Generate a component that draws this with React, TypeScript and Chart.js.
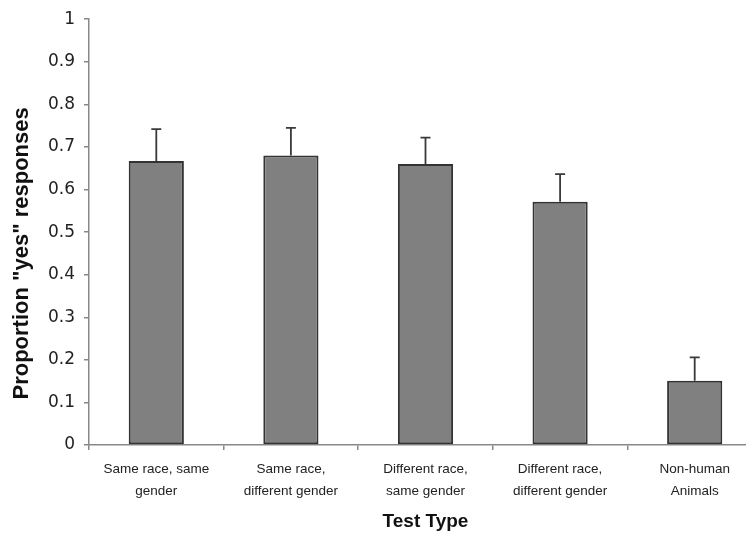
import React, { useEffect, useRef } from "react";
import { Chart, registerables } from "chart.js";

Chart.register(...registerables);

const categories: string[][] = [
  ["Same race, same", "gender"],
  ["Same race,", "different gender"],
  ["Different race,", "same gender"],
  ["Different race,", "different gender"],
  ["Non-human", "Animals"],
];
const proportions: number[] = [0.667, 0.68, 0.66, 0.571, 0.151];
const errors: number[] = [0.075, 0.065, 0.062, 0.065, 0.055];
const yTicks: number[] = [0, 0.1, 0.2, 0.3, 0.4, 0.5, 0.6, 0.7, 0.8, 0.9, 1];
const yTitle = 'Proportion "yes" responses';
const xTitle = "Test Type";

const SANS = "'Liberation Sans', Arial, sans-serif";

const errorBarPlugin = {
  id: "errorBars",
  afterDatasetsDraw(chart: any) {
    const meta = chart.getDatasetMeta(0);
    const yScale = chart.scales.y;
    const ctx = chart.ctx;
    ctx.save();
    ctx.strokeStyle = "#3a3a3a";
    ctx.lineWidth = 1.8;
    meta.data.forEach((bar: any, i: number) => {
      const top = yScale.getPixelForValue(proportions[i] + errors[i]);
      const x = bar.x;
      ctx.beginPath();
      ctx.moveTo(x, bar.y);
      ctx.lineTo(x, top);
      ctx.moveTo(x - 5, top);
      ctx.lineTo(x + 5, top);
      ctx.stroke();
    });
    ctx.restore();
  },
};

const yTitlePlugin = {
  id: "yTitle",
  afterDraw(chart: any) {
    const ctx = chart.ctx;
    const area = chart.chartArea;
    ctx.save();
    ctx.translate(22, area.top + (area.bottom - area.top) * 0.55);
    ctx.rotate(-Math.PI / 2);
    ctx.font = `bold 22px ${SANS}`;
    ctx.fillStyle = "#111";
    ctx.textAlign = "center";
    ctx.textBaseline = "middle";
    ctx.fillText(yTitle, 0, 0);
    ctx.restore();
  },
};

export default function App() {
  const ref = useRef<HTMLCanvasElement | null>(null);
  useEffect(() => {
    if (!ref.current) return;
    const chart = new Chart(ref.current, {
      type: "bar",
      data: {
        labels: categories,
        datasets: [
          {
            data: proportions,
            backgroundColor: "#808080",
            borderColor: "#333333",
            borderWidth: 2,
            borderSkipped: false,
            barPercentage: 0.41,
            categoryPercentage: 1,
          },
        ],
      },
      options: {
        animation: false,
        responsive: false,
        layout: { padding: { left: 7, top: 14, right: 28, bottom: 0 } },
        plugins: {
          legend: { display: false },
          tooltip: { enabled: false },
        },
        scales: {
          x: {
            afterFit: (s: any) => {
              s.height = 89;
            },
            grid: {
              display: true,
              drawOnChartArea: false,
              drawTicks: true,
              tickLength: 5,
              color: "#888",
              lineWidth: 1.5,
              offset: true,
            },
            border: { display: true, color: "#888", width: 1.5 },
            ticks: {
              color: "#222",
              font: { family: SANS, size: 13.5, lineHeight: 1.63 },
              padding: 8,
              maxRotation: 0,
              autoSkip: false,
            },
            title: {
              display: true,
              text: xTitle,
              color: "#111",
              font: { family: SANS, size: 19, weight: "bold" },
              padding: { top: 6, bottom: 1 },
            },
          },
          y: {
            min: 0,
            max: 1,
            afterBuildTicks: (s: any) => {
              s.ticks = yTicks.map((v) => ({ value: v }));
            },
            afterFit: (s: any) => {
              s.width = 82;
            },
            grid: {
              display: true,
              drawOnChartArea: false,
              drawTicks: true,
              tickLength: 5,
              color: "#888",
              lineWidth: 1.5,
            },
            border: { display: true, color: "#888", width: 1.5 },
            ticks: {
              color: "#222",
              font: { family: "'DejaVu Sans', sans-serif", size: 17 },
              padding: 9,
              callback: (v: any) => String(Math.round(Number(v) * 10) / 10),
            },
            title: { display: false },
          },
        },
      },
      plugins: [errorBarPlugin, yTitlePlugin],
    });
    return () => chart.destroy();
  }, []);
  return (
    <div
      style={{
        position: "fixed",
        left: 0,
        top: 0,
        width: 746,
        height: 534,
        overflow: "hidden",
        background: "#fff",
      }}
    >
      <canvas ref={ref} width={790} height={534} style={{ width: 790, height: 534, display: "block" }} />
    </div>
  );
}
